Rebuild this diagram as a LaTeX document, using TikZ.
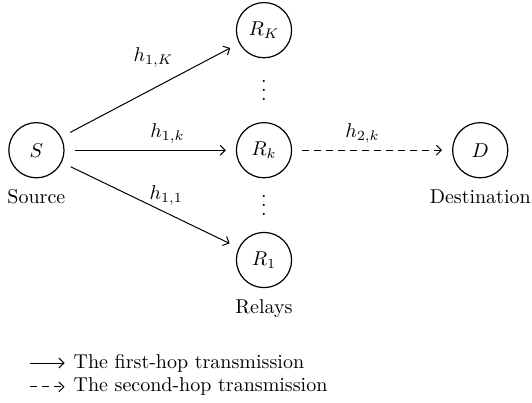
\documentclass[tikz,border=0pt]{standalone}
\usetikzlibrary{positioning, arrows.meta}

\begin{document}
\begin{tikzpicture}[
  station/.style={
    circle, draw, line width=0.6pt,
    minimum size=0.97cm, inner sep=0pt
  },
  hop/.style={
    -{Straight Barb[length=2.5pt, width=5pt]}, line width=0.5pt,
    shorten <=5pt, shorten >=5pt
  },
  firsthop/.style={hop},
  secondhop/.style={hop, dash pattern=on 3.5pt off 2.5pt},
  caption/.style={label distance=2pt},
  gap/.style={inner sep=0pt, align=center, font={\fontsize{10}{4.3}\selectfont}}
]
\useasboundingbox (-0.64,-4.43) rectangle (8.71,2.64);

% ---- Source and destination ----
\node[station, label={[caption]below:Source}] (src) at (0,0) {$S$};
\node[station, label={[caption]below:Destination}] (dst) at (7.8,0) {$D$};

% ---- Relays ----
\node[station] (relK) at (4.0,2.11) {$R_K$};
\node[station] (relk) at (4.0,0) {$R_k$};
\node[station, label={[caption]below:Relays}] (rel1) at (4.0,-1.93) {$R_1$};
\node[gap] (dotsup) at (4.0,1.05) {.\\.\\.};
\node[gap] (dotsdn) at (4.0,-0.97) {.\\.\\.};

% ---- Arrows: first hop ----
\draw[firsthop] (src) -- node[above left, pos=0.67] {$h_{1,K}$} (relK);
\draw[firsthop] (src) -- node[above, pos=0.6] {$h_{1,k}$} (relk);
\draw[firsthop] (src) -- node[above, pos=0.59] {$h_{1,1}$} (rel1);

% ---- Arrow: second hop ----
\draw[secondhop] (relk) -- node[above, pos=0.44] {$h_{2,k}$} (dst);

% ---- Key ----
\node[anchor=west] (keyfirst) at (0.53,-3.74) {The first-hop transmission};
\node[anchor=west] (keysecond) at (0.53,-4.16) {The second-hop transmission};
\coordinate (startfirst) at (-0.11,-3.74);
\coordinate (startsecond) at (-0.11,-4.16);
\draw[firsthop, shorten <=0pt, shorten >=1pt] (startfirst) -- (keyfirst.west);
\draw[secondhop, shorten <=0pt, shorten >=1pt] (startsecond) -- (keysecond.west);

\end{tikzpicture}
\end{document}
